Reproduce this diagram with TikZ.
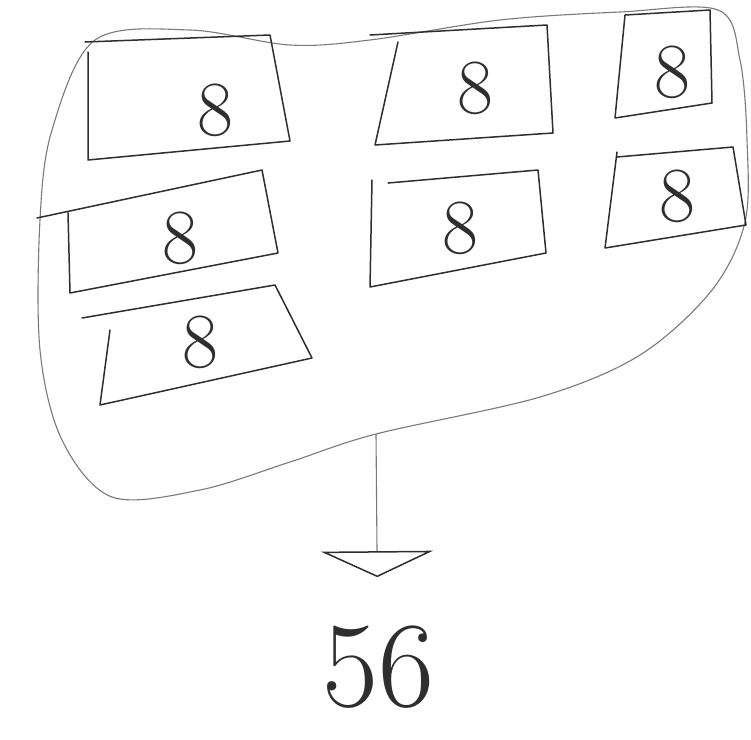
\documentclass[tikz,border=0pt]{standalone}
\usepackage{tikz}
\usetikzlibrary{arrows.meta, positioning, calc}
\definecolor{penline}{HTML}{2E2E2E}
\definecolor{pencil}{HTML}{7A7A7A}
\tikzset{
  cellbox/.style={draw=penline, line width=1.5pt, line join=round, line cap=round},
  cellnum/.style={font=\fontsize{78}{78}\selectfont, text=penline, inner sep=0pt},
  blobline/.style={draw=pencil, line width=1.1pt},
  totalnum/.style={font=\fontsize{122}{122}\selectfont, text=penline, inner sep=0pt},
}
\begin{document}
\begin{tikzpicture}[x=1pt, y=-1pt]
\useasboundingbox[fill=white] (0,0) rectangle (751,739);
% the group round all cells
\draw[blobline] plot[smooth cycle, tension=0.55] coordinates {
  (95,40) (190,30) (290,45) (370,40) (500,20) (620,12) (718,10)
  (740,60) (747,140) (745,222) (712,290) (640,355) (540,397)
  (376,434) (290,462) (200,490) (112,497) (62,440) (40,350)
  (40,220) (52,130)};
% cells, top row
\draw[cellbox] (88,52) -- (88,160) -- (290,141) -- (270,35) -- (85,42);
\node[cellnum] (n1) at (215,110) {8};
\draw[cellbox] (398,42) -- (375,145) -- (553,133) -- (547,25) -- (370,35);
\node[cellnum] (n2) at (475,88) {8};
\draw[cellbox] (625,15) -- (615,118) -- (712,103) -- (710,10) -- cycle;
\node[cellnum] (n3) at (672,72) {8};
% cells, middle row
\draw[cellbox] (37,218) -- (262,170) -- (278,253) -- (70,293) -- (68,213);
\node[cellnum] (n4) at (180,238) {8};
\draw[cellbox] (388,183) -- (538,170) -- (546,253) -- (370,287) -- (372,180);
\node[cellnum] (n5) at (460,228) {8};
\draw[cellbox] (617,152) -- (605,248) -- (746,225) -- (733,147) -- (617,157);
\node[cellnum] (n6) at (677,196) {8};
% cell, bottom row
\draw[cellbox] (82,318) -- (275,285) -- (312,358) -- (100,405) -- (110,330);
\node[cellnum] (n7) at (200,342) {8};
% sum
\coordinate (blobbot) at (376,434);
\node[totalnum, anchor=base] (total) at (378,706) {56};
\draw[pencil, line width=1.1pt, shorten >=48pt,
      -{Triangle[open, width=112pt, length=26pt, line width=1.5pt, color=penline]}]
  (blobbot) -- (total);
\end{tikzpicture}
\end{document}
